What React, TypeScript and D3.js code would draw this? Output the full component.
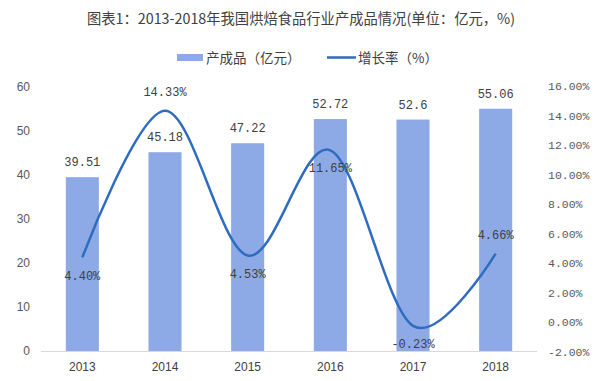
import React from "react";
import * as d3 from "d3";

const years = ["2013", "2014", "2015", "2016", "2017", "2018"];
const output = [39.51, 45.18, 47.22, 52.72, 52.6, 55.06];
const growth = [4.4, 14.33, 4.53, 11.65, -0.23, 4.66];
const growthLabelAbove = [false, true, false, false, false, true];
const leftTicks = [0, 10, 20, 30, 40, 50, 60];
const rightTicks = [-2, 0, 2, 4, 6, 8, 10, 12, 14, 16];

const W = 600;
const H = 381;
const BAR = "#8eaae6";
const LINE = "#2e6cc0";
const TXT = "#404040";
const MONO = "'Liberation Mono', 'DejaVu Sans Mono', monospace";
const SANS = "Arial, 'Liberation Sans', sans-serif";
const CJK = "'Noto Sans CJK SC', 'Noto Sans', sans-serif";

export default function App() {
  const x = d3.scaleBand().domain(years).range([41, 537]).paddingInner(0.6).paddingOuter(0.3);
  const yL = d3.scaleLinear().domain([0, 60]).range([351, 87]);
  const yR = d3.scaleLinear().domain([-2, 16]).range([352, 86]);
  const cx = (d: string) => (x(d) as number) + x.bandwidth() / 2;

  const line = d3
    .line<number>()
    .x((_, i) => cx(years[i]))
    .y((d) => yR(d))
    .curve(d3.curveCardinal.tension(0));

  return (
    <svg
      width={W}
      height={H}
      style={{ position: "absolute", left: 0, top: 0, background: "#fff" }}
    >
      <text x={301} y={24} textAnchor="middle" fontFamily={CJK} fontSize={14.3} fill={TXT}>
        图表1：2013-2018年我国烘焙食品行业产成品情况(单位：亿元，%)
      </text>

      {/* legend */}
      <rect x={177} y={54} width={26} height={7} fill={BAR} />
      <text x={206} y={62.5} fontFamily={CJK} fontSize={13.5} fill={TXT}>
        产成品（亿元）
      </text>
      <line x1={327} x2={356} y1={57.5} y2={57.5} stroke={LINE} strokeWidth={2.5} />
      <text x={358} y={62.5} fontFamily={CJK} fontSize={13.5} fill={TXT}>
        增长率（%）
      </text>

      {/* left axis */}
      {leftTicks.map((t) => (
        <text
          key={"l" + t}
          x={30}
          y={yL(t)}
          dy="0.35em"
          textAnchor="end"
          fontFamily={SANS}
          fontSize={12}
          fill="#595959"
        >
          {t}
        </text>
      ))}

      {/* right axis */}
      {rightTicks.map((t) => (
        <text
          key={"r" + t}
          x={548}
          y={yR(t)}
          dy="0.35em"
          textAnchor="start"
          fontFamily={MONO}
          fontSize={11.5}
          fill="#595959"
        >
          {t.toFixed(2) + "%"}
        </text>
      ))}

      {/* bars */}
      {years.map((yr, i) => (
        <rect
          key={"b" + yr}
          x={x(yr)}
          y={yL(output[i])}
          width={x.bandwidth()}
          height={yL(0) - yL(output[i])}
          fill={BAR}
        />
      ))}

      {/* baseline */}
      <line x1={41} x2={537} y1={351.5} y2={351.5} stroke="#d9d9d9" strokeWidth={1} />

      {/* x labels */}
      {years.map((yr) => (
        <text
          key={"x" + yr}
          x={cx(yr)}
          y={367}
          dy="0.35em"
          textAnchor="middle"
          fontFamily={SANS}
          fontSize={12}
          fill={TXT}
        >
          {yr}
        </text>
      ))}

      {/* bar labels */}
      {years.map((yr, i) => (
        <text
          key={"bl" + yr}
          x={cx(yr)}
          y={yL(output[i]) - 15}
          dy="0.35em"
          textAnchor="middle"
          fontFamily={MONO}
          fontSize={12}
          fill={TXT}
        >
          {String(output[i])}
        </text>
      ))}

      {/* line */}
      <path d={line(growth) || ""} fill="none" stroke={LINE} strokeWidth={2.5} />

      {/* line labels */}
      {years.map((yr, i) => (
        <text
          key={"gl" + yr}
          x={cx(yr)}
          y={yR(growth[i]) + (growthLabelAbove[i] ? -19 : 18)}
          dy="0.35em"
          textAnchor="middle"
          fontFamily={MONO}
          fontSize={12}
          fill={TXT}
        >
          {growth[i].toFixed(2) + "%"}
        </text>
      ))}
    </svg>
  );
}
